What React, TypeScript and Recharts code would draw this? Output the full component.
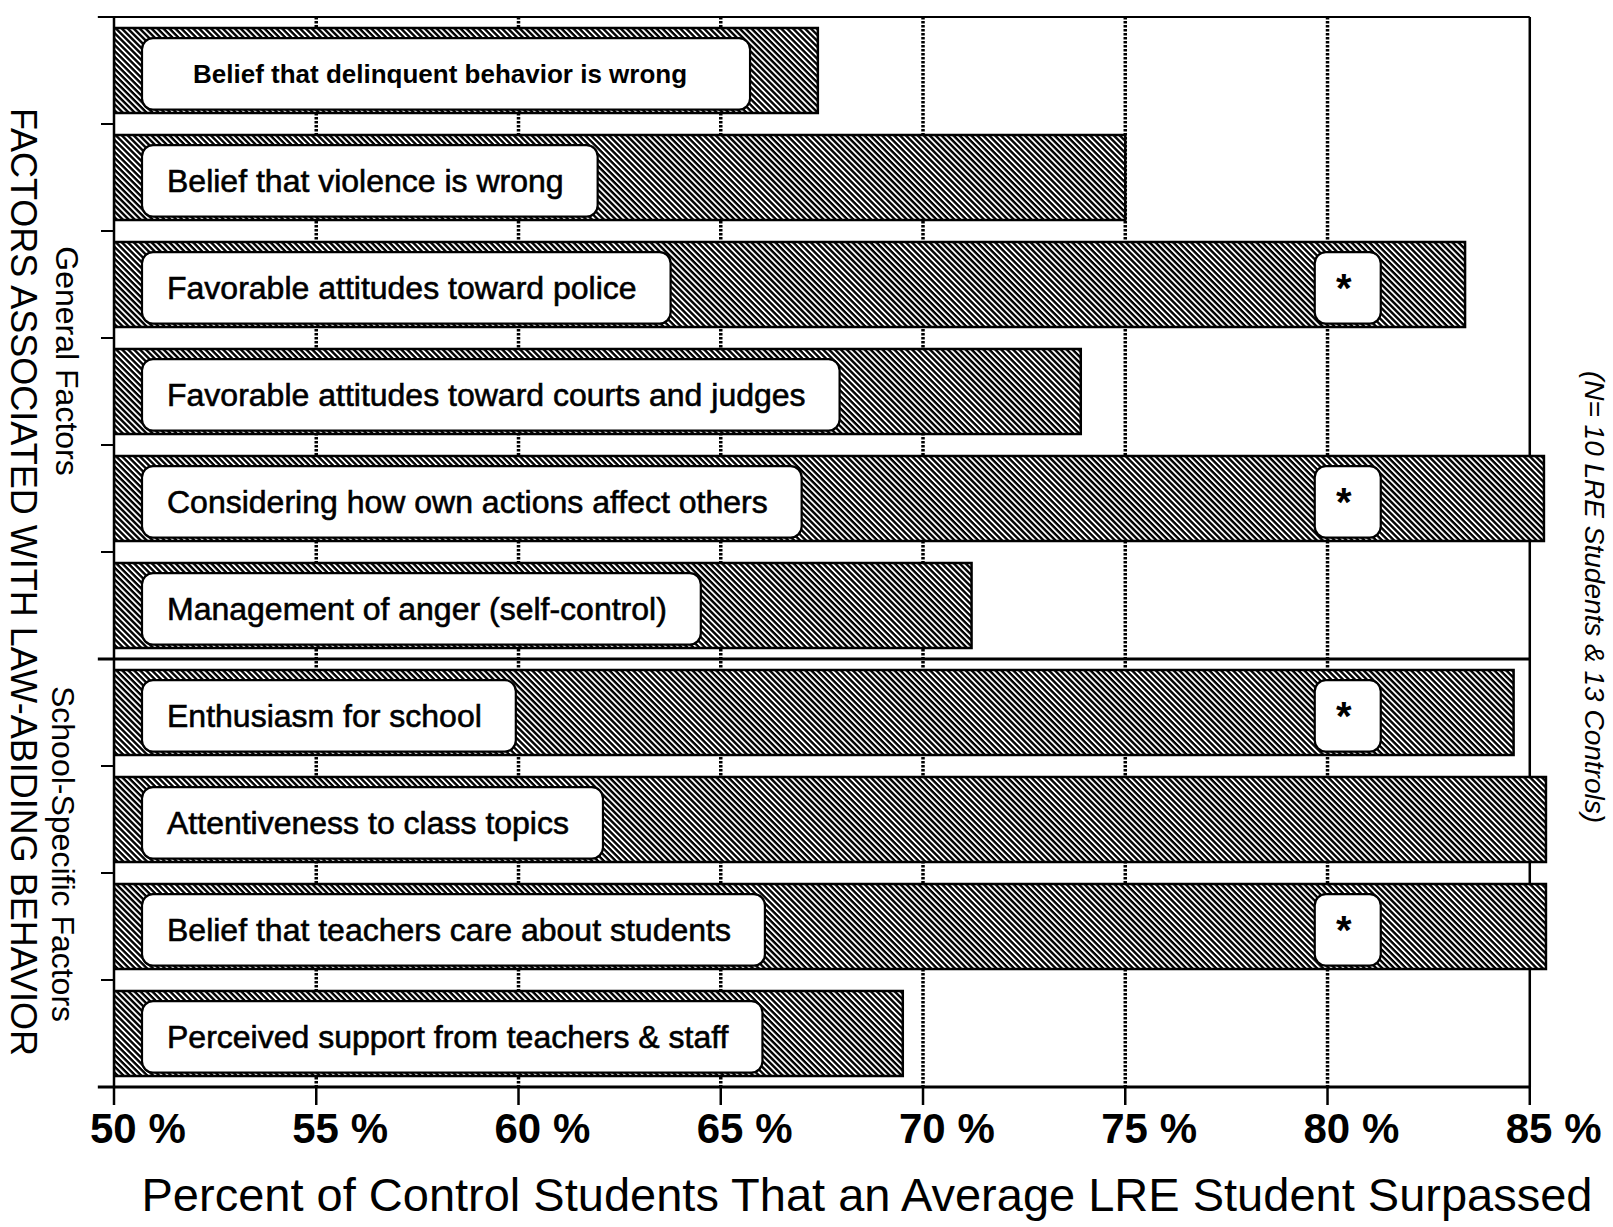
import React from 'react';
import { BarChart, Bar, XAxis, YAxis, CartesianGrid, ReferenceLine } from 'recharts';

const CATEGORIES = [
  'Belief that delinquent behavior is wrong',
  'Belief that violence is wrong',
  'Favorable attitudes toward police',
  'Favorable attitudes toward courts and judges',
  'Considering how own actions affect others',
  'Management of anger (self-control)',
  'Enthusiasm for school',
  'Attentiveness to class topics',
  'Belief that teachers care about students',
  'Perceived support from teachers & staff',
];
const VALUES = [67.4, 75.0, 83.4, 73.9, 85.35, 71.2, 84.6, 85.4, 85.4, 69.5];
const SIGNIFICANT = [false, false, true, false, true, false, true, false, true, false];
const X_TICKS = [50, 55, 60, 65, 70, 75, 80, 85];
const X_DOMAIN: [number, number] = [50, 85.5];
const FRAME_VALUE = 85;
const LINE_START = 49.6;
const STAR_POSITION = 80.5;
const GROUP_BREAK_CATEGORY = CATEGORIES[6];

const data = CATEGORIES.map((name, i) => ({ name, value: VALUES[i], sig: SIGNIFICANT[i] }));

const FONT = '"Liberation Sans", Arial, Helvetica, sans-serif';

let ctx: CanvasRenderingContext2D | null = null;
function measure(text: string, font: string): number {
  if (!ctx) ctx = document.createElement('canvas').getContext('2d');
  if (!ctx) return text.length * 15;
  ctx.font = font;
  return ctx.measureText(text).width;
}

const BarShape = (props: any) => {
  const { x, y, width, height, index, payload } = props;
  const first = index === 0;
  const fs = first ? 26 : 32;
  const weight = first ? 'bold' : 'normal';
  const padL = first ? 51 : 25;
  const padR = first ? 63 : 34;
  const tw = measure(payload.name, `${weight} ${fs}px ${FONT}`);
  const boxX = x + 28;
  const boxY = y + height * 0.12;
  const boxH = height * 0.84;
  const boxW = tw + padL + padR;
  const v = payload.value;
  const pxPer = width / (v - X_DOMAIN[0]);
  const starCx = x + (STAR_POSITION - X_DOMAIN[0]) * pxPer;
  const starW = 66;
  return (
    <g>
      <rect x={x} y={y} width={width} height={height} fill="url(#hatch)" stroke="#000" strokeWidth={2.5} />
      <rect x={boxX} y={boxY} width={boxW} height={boxH} rx={11} ry={11} fill="#fff" stroke="#000" strokeWidth={2.2} />
      <text
        x={boxX + padL}
        y={boxY + boxH / 2 + fs * 0.36}
        fontFamily={FONT}
        fontSize={fs}
        fontWeight={weight}
        fill="#000"
        stroke={first ? 'none' : '#000'}
        strokeWidth={first ? 0 : 0.6}
      >
        {payload.name}
      </text>
      {payload.sig && (
        <g>
          <rect x={starCx - starW / 2} y={boxY} width={starW} height={boxH} rx={11} ry={11} fill="#fff" stroke="#000" strokeWidth={2.2} />
          <text x={starCx - 4} y={boxY + boxH / 2 + 14} textAnchor="middle" fontFamily={FONT} fontSize={40} fontWeight="bold" fill="#000">*</text>
        </g>
      )}
    </g>
  );
};

const XTick = (props: any) => {
  const { x, y, payload } = props;
  return (
    <text x={x - 24} y={y + 38} textAnchor="start" fontFamily={FONT} fontSize={42} fontWeight="bold" fill="#000">
      {`${payload.value} %`}
    </text>
  );
};

const YTick = (props: any) => {
  const { x, y, payload, index } = props;
  const off = typeof payload?.offset === 'number' && payload.offset > 0 ? payload.offset : 53.5;
  const isLast = index === CATEGORIES.length - 1;
  return (
    <g>
      <line x1={x - 13} x2={x} y1={y - off} y2={y - off} stroke="#000" strokeWidth={2} />
      {isLast && <line x1={x - 13} x2={x} y1={y + off} y2={y + off} stroke="#000" strokeWidth={2} />}
    </g>
  );
};

const gridLine = (p: any) => {
  const i = p.index;
  const last = X_TICKS.length - 1;
  if (i === 0 || i > last) return <g key={`g-${i}`} />;
  if (i === last) {
    return <line key={`g-${i}`} x1={p.x1} y1={p.y1} x2={p.x2} y2={p.y2} stroke="#000" strokeWidth={2.5} />;
  }
  return (
    <line key={`g-${i}`} x1={p.x1} y1={p.y1} x2={p.x2} y2={p.y2} stroke="#000" strokeWidth={3.5} strokeDasharray="2.5 1.5" />
  );
};

export default function App() {
  return (
    <div style={{ position: 'absolute', left: 0, top: 0, width: 1613, height: 1227, background: '#fff' }}>
      <svg width={0} height={0} style={{ position: 'absolute' }}>
        <defs>
          <pattern id="hatch" patternUnits="userSpaceOnUse" width={4.2} height={4.2} patternTransform="rotate(45)">
            <rect width={4.2} height={4.2} fill="#fff" />
            <rect width={4.2} height={2.4} fill="#000" />
          </pattern>
        </defs>
      </svg>
      <div style={{ position: 'absolute', left: 0, top: 0 }}>
        <BarChart
          width={1613}
          height={1227}
          data={data}
          layout="vertical"
          margin={{ top: 17, right: 63, bottom: 80, left: 100 }}
          barCategoryGap={11}
        >
          <CartesianGrid horizontal={false} vertical={gridLine} syncWithTicks />
          <XAxis
            type="number"
            domain={X_DOMAIN}
            ticks={X_TICKS}
            interval={0}
            allowDataOverflow
            axisLine={false}
            tickLine={{ stroke: '#000', strokeWidth: 2.5 }}
            tickSize={18}
            tickMargin={0}
            tick={<XTick />}
            height={60}
          />
          <YAxis
            type="category"
            dataKey="name"
            width={14}
            interval={0}
            tickSize={0}
            tickMargin={0}
            tickLine={false}
            axisLine={{ stroke: '#000', strokeWidth: 2.5 }}
            tick={<YTick />}
          />
          <ReferenceLine
            segment={[{ x: LINE_START, y: CATEGORIES[0] }, { x: FRAME_VALUE, y: CATEGORIES[0] }]}
            position="start"
            stroke="#000"
            strokeWidth={2.2}
            ifOverflow="visible"
          />
          <ReferenceLine
            segment={[{ x: LINE_START, y: GROUP_BREAK_CATEGORY }, { x: FRAME_VALUE, y: GROUP_BREAK_CATEGORY }]}
            position="start"
            stroke="#000"
            strokeWidth={3}
            ifOverflow="visible"
          />
          <ReferenceLine
            segment={[
              { x: LINE_START, y: CATEGORIES[CATEGORIES.length - 1] },
              { x: FRAME_VALUE, y: CATEGORIES[CATEGORIES.length - 1] },
            ]}
            position="end"
            stroke="#000"
            strokeWidth={3}
            ifOverflow="visible"
          />
          <Bar dataKey="value" shape={BarShape} isAnimationActive={false} />
        </BarChart>
      </div>
      <svg width={1613} height={1227} style={{ position: 'absolute', left: 0, top: 0, pointerEvents: 'none' }}>
        <g fontFamily={FONT} fill="#000">
          <text x={23} y={582} transform="rotate(90 23 582)" textAnchor="middle" dominantBaseline="central" fontSize={36}>
            FACTORS ASSOCIATED WITH LAW-ABIDING BEHAVIOR
          </text>
          <text x={67} y={361} transform="rotate(90 67 361)" textAnchor="middle" dominantBaseline="central" fontSize={32}>
            General Factors
          </text>
          <text x={63} y={854} transform="rotate(90 63 854)" textAnchor="middle" dominantBaseline="central" fontSize={32}>
            School-Specific Factors
          </text>
          <text x={1594} y={597} transform="rotate(90 1594 597)" textAnchor="middle" dominantBaseline="central" fontSize={28} fontStyle="italic">
            (N= 10 LRE Students &amp; 13 Controls)
          </text>
          <text x={867} y={1211} textAnchor="middle" fontSize={47}>
            Percent of Control Students That an Average LRE Student Surpassed
          </text>
        </g>
      </svg>
    </div>
  );
}
